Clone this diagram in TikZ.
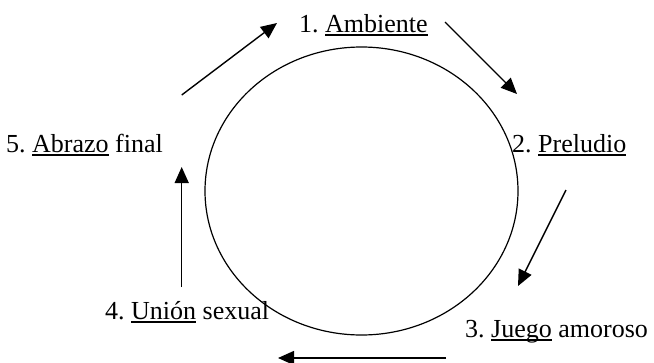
\documentclass[tikz,border=0pt]{standalone}
\usepackage{fontspec}
\setmainfont{Liberation Serif}
\usetikzlibrary{arrows.meta}

\newcommand{\subrayado}[1]{\setbox0\hbox{#1}\rlap{\rule[-3.5pt]{\wd0}{1.2pt}}\box0\relax}

\begin{document}
\frenchspacing
\begin{tikzpicture}[x=1pt,y=-1pt,
    etapa/.style={anchor=base west,inner sep=0pt,font=\fontsize{26}{30}\selectfont},
    flecha/.style={line width=1.4pt,-{Triangle[length=16pt,width=14pt]}}]

            \useasboundingbox (0,0) rectangle (654,362);

            \draw[line width=1.2pt] (361.5,191) ellipse [x radius=156.5, y radius=144];

            \node[etapa] (ambiente) at (299,32)  {1. \subrayado{Ambiente}};
            \node[etapa] (preludio) at (512,152) {2. \subrayado{Preludio}};
            \node[etapa] (juego)    at (465,337) {3. \subrayado{Juego} amoroso};
            \node[etapa] (union)    at (105,319) {4. \subrayado{Unión} sexual};
            \node[etapa] (abrazo)   at (6,152)   {5. \subrayado{Abrazo} final};

            \coordinate (a1) at (181.7,95);  \coordinate (b1) at (277,23);
            \coordinate (a2) at (445,22);    \coordinate (b2) at (517,94);
            \coordinate (a3) at (566,190);   \coordinate (b3) at (518,286);
            \coordinate (a4) at (446,358);   \coordinate (b4) at (278,358);
            \coordinate (a5) at (181.7,287); \coordinate (b5) at (181.7,167);

            \foreach \i in {1,...,5} {
                \draw[flecha] (a\i) -- (b\i);
            }
        \end{tikzpicture}
\end{document}
